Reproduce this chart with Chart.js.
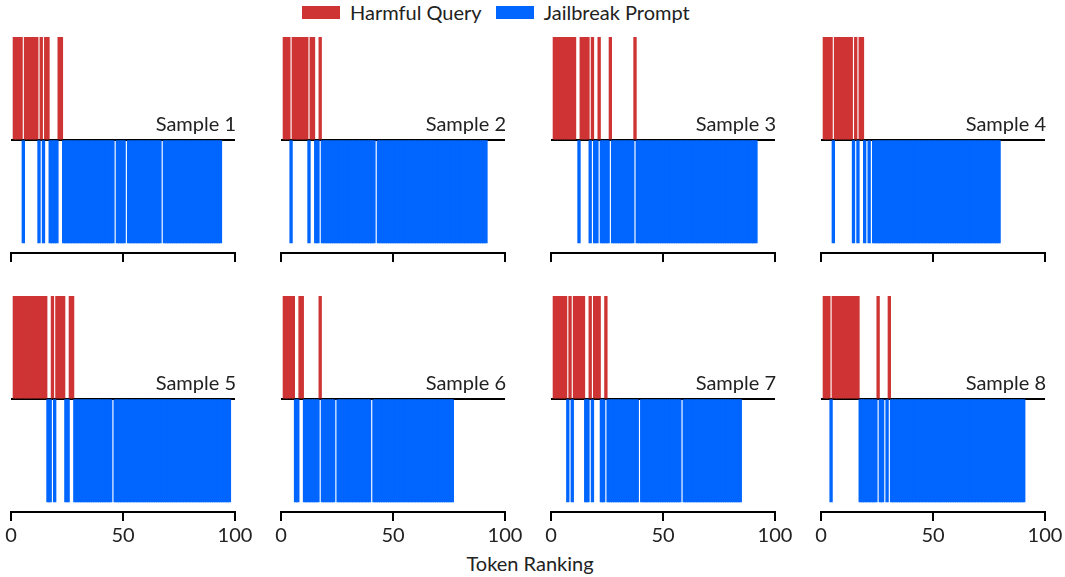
<!DOCTYPE html>
<html>
<head>
<meta charset="utf-8">
<script src="https://cdn.jsdelivr.net/npm/chart.js@4.4.1/dist/chart.umd.min.js"></script>
<style>
  body { margin: 0; background: #fff; }
  #fig { position: relative; width: 1065px; height: 577px; font-family: Lato, sans-serif; color: #222; }
  #fig canvas { position: absolute; }
  .legend { position: absolute; left: 302px; top: 1px; height: 22px; display: flex; align-items: center; font-size: 20px; }
  .swatch { display: inline-block; width: 38px; height: 13px; margin-right: 10px; }
  .xlabel { position: absolute; left: 0; width: 1060px; top: 551px; text-align: center; font-size: 20px; }
</style>
</head>
<body>
<div id="fig">
  <div class="legend" id="legend"></div>
  <div class="xlabel">Token Ranking</div>
</div>

<script>
/* ======================
   DATA
====================== */
const SERIES_NAMES = ["Harmful Query", "Jailbreak Prompt"];
const SERIES_COLORS = ["#cf3434", "#0066ff"];
const SAMPLE_NAMES = ["Sample 1", "Sample 2", "Sample 3", "Sample 4",
                      "Sample 5", "Sample 6", "Sample 7", "Sample 8"];
const TOKEN_TICKS = [0, 50, 100];

// runs of token ranks [first, last] belonging to the harmful query
const HARMFUL_RUNS = [
  [[1, 4], [6, 11], [13, 13], [15, 16], [21, 22]],
  [[1, 3], [5, 11], [13, 14], [17, 17]],
  [[1, 10], [13, 16], [18, 18], [21, 21], [26, 26], [37, 37]],
  [[1, 4], [6, 13], [15, 15], [17, 18]],
  [[1, 15], [18, 18], [20, 23], [26, 27]],
  [[1, 5], [8, 9], [17, 17]],
  [[1, 6], [8, 8], [10, 14], [17, 17], [19, 21], [24, 24]],
  [[1, 3], [5, 16], [25, 25], [30, 30]]
];

// runs of token ranks [first, last] belonging to the jailbreak prompt
const JAILBREAK_RUNS = [
  [[5, 5], [12, 12], [14, 14], [17, 20], [23, 45], [47, 50], [52, 66], [68, 93]],
  [[4, 4], [12, 12], [15, 16], [18, 41], [43, 91]],
  [[12, 12], [17, 17], [19, 20], [22, 25], [27, 36], [38, 91]],
  [[5, 5], [14, 14], [16, 16], [19, 19], [21, 21], [23, 79]],
  [[16, 17], [19, 19], [24, 25], [28, 44], [46, 97]],
  [[6, 7], [10, 16], [18, 23], [25, 39], [41, 76]],
  [[7, 7], [9, 9], [15, 16], [18, 18], [22, 23], [25, 38], [40, 57], [59, 84]],
  [[4, 4], [17, 24], [26, 27], [29, 29], [31, 90]]
];

/* ======================
   LAYOUT
====================== */
const PANEL_W = 224, PANEL_H = 216;
const COL_STEP = 270, ROW_STEP = 259;
const FIRST_LEFT = 11, FIRST_TOP = 37;
const PAD_X = 30, PAD_TOP = 10, AXIS_H = 45;
const FONT = "Lato, sans-serif";

/* ======================
   LEGEND
====================== */
const legend = document.getElementById("legend");
SERIES_NAMES.forEach((name, i) => {
  const sw = document.createElement("span");
  sw.className = "swatch";
  sw.style.background = SERIES_COLORS[i];
  if (i > 0) sw.style.marginLeft = "14px";
  const txt = document.createElement("span");
  txt.textContent = name;
  legend.append(sw, txt);
});

/* ======================
   HELPERS
====================== */
function inRuns(runs, k) {
  return runs.some(([a, b]) => k >= a && k <= b);
}

// one point per rank slot so every bar is exactly one rank wide
function toPoints(runs, sign) {
  const pts = [];
  for (let k = 0; k < 100; k++) {
    pts.push({ x: k + 0.5, y: inRuns(runs, k) ? sign : null });
  }
  return pts;
}

const sampleLabel = {
  id: "sampleLabel",
  afterDatasetsDraw(chart, args, opts) {
    const { ctx, chartArea, scales } = chart;
    ctx.save();
    ctx.font = `20px ${FONT}`;
    ctx.fillStyle = "#222";
    ctx.textAlign = "right";
    ctx.textBaseline = "alphabetic";
    ctx.fillText(opts.text, chartArea.right + 1, scales.y.getPixelForValue(0) - 9);
    ctx.restore();
  }
};

/* ======================
   PANELS
====================== */
function makePanel(i) {
  const row = Math.floor(i / 4), col = i % 4;
  const canvas = document.createElement("canvas");
  canvas.width = PANEL_W + 2 * PAD_X;
  canvas.height = PAD_TOP + PANEL_H + AXIS_H;
  canvas.style.left = (FIRST_LEFT + col * COL_STEP - PAD_X) + "px";
  canvas.style.top = (FIRST_TOP + row * ROW_STEP - PAD_TOP) + "px";
  document.getElementById("fig").appendChild(canvas);

  const barStyle = {
    borderWidth: 0,
    barPercentage: 1,
    categoryPercentage: 1,
    inflateAmount: 0.55,
    grouped: false
  };

  new Chart(canvas, {
    type: "bar",
    data: {
      datasets: [
        { label: SERIES_NAMES[0], data: toPoints(HARMFUL_RUNS[i], 1),
          backgroundColor: SERIES_COLORS[0], ...barStyle },
        { label: SERIES_NAMES[1], data: toPoints(JAILBREAK_RUNS[i], -1),
          backgroundColor: SERIES_COLORS[1], ...barStyle }
      ]
    },
    options: {
      responsive: false,
      animation: false,
      devicePixelRatio: 1,
      layout: { padding: { left: PAD_X, right: PAD_X, top: PAD_TOP, bottom: 0 } },
      plugins: {
        legend: { display: false },
        tooltip: { enabled: false },
        sampleLabel: { text: SAMPLE_NAMES[i] }
      },
      scales: {
        x: {
          type: "linear",
          min: 0,
          max: 100,
          offset: false,
          afterBuildTicks: s => { s.ticks = TOKEN_TICKS.map(v => ({ value: v })); },
          afterFit: s => { s.height = AXIS_H; },
          border: { display: true, color: "#000", width: 2 },
          grid: { offset: false, drawOnChartArea: false, drawTicks: true, tickLength: 9, color: "#000", lineWidth: 2 },
          ticks: {
            display: row === 1,
            padding: 3,
            maxRotation: 0,
            color: "#222",
            font: { family: FONT, size: 20 }
          }
        },
        y: {
          min: -1.1,
          max: 1,
          z: 1,
          afterBuildTicks: s => { s.ticks = [{ value: 0 }]; },
          afterFit: s => { s.width = 0; },
          border: { display: false },
          grid: { drawTicks: false, color: "#000", lineWidth: 2 },
          ticks: { display: false }
        }
      }
    },
    plugins: [sampleLabel]
  });
}

document.fonts.load(`20px ${FONT}`).finally(() => {
  SAMPLE_NAMES.forEach((_, i) => makePanel(i));
});
</script>
</body>
</html>
